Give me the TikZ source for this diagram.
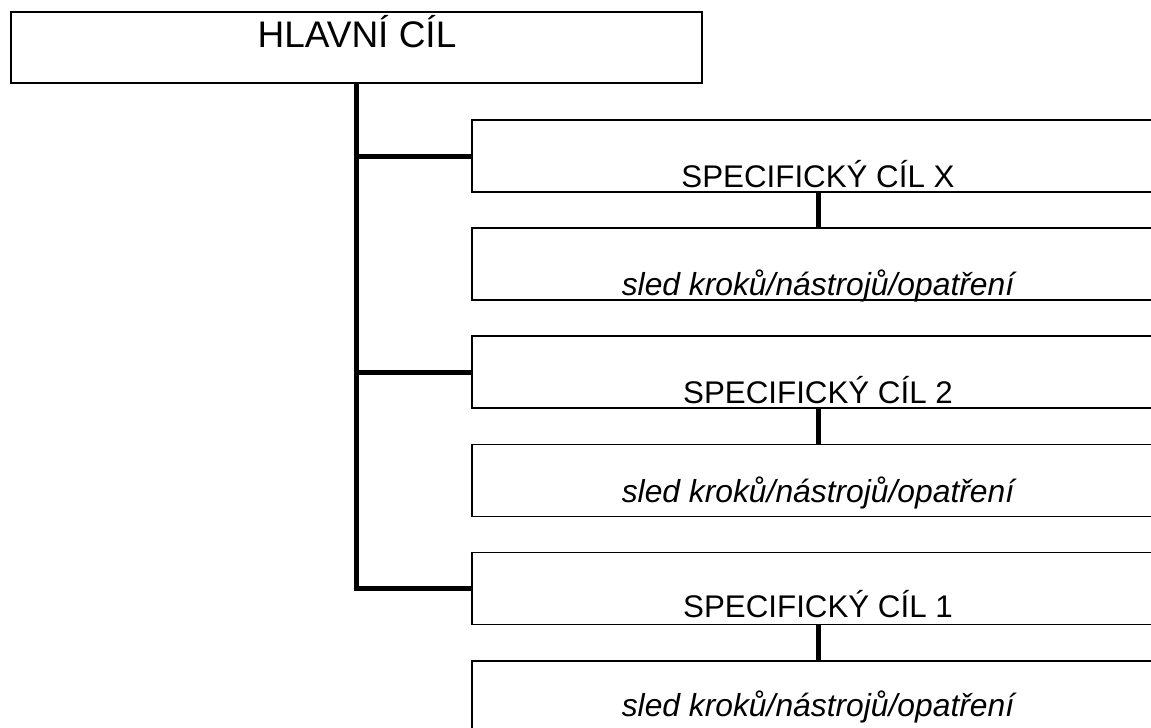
\documentclass[tikz,border=0pt]{standalone}
\usepackage{fontspec}
\setmainfont{Liberation Sans}
\begin{document}
\begin{tikzpicture}[x=1pt,y=-1pt,
  box/.style={draw, line width=1.5pt, rectangle, inner sep=0pt, minimum width=692pt, minimum height=72pt},
  mainbox/.style={draw, line width=1.8pt, rectangle, inner sep=0pt, minimum width=691pt, minimum height=71pt},
  link/.style={line width=5pt, line join=miter},
  sc/.style={font=\fontsize{31.3}{36}\selectfont, anchor=base, inner sep=0pt},
  sled/.style={font=\fontsize{31.8}{36}\selectfont\itshape, anchor=base, inner sep=0pt},
  maintext/.style={font=\fontsize{37}{42}\selectfont, anchor=base, inner sep=0pt}]
\useasboundingbox (0,0) rectangle (1151,728);
\clip (0,0) rectangle (1151,728);
\fill[white] (0,0) rectangle (1151,728);
% boxes
\node[mainbox] (main) at (356.5,47.5) {};
\node[box] (b1) at (818,156) {};
\node[box] (b2) at (818,264) {};
\node[box] (b3) at (818,372) {};
\node[box] (b4) at (818,480.5) {};
\node[box] (b5) at (818,588.5) {};
\node[box] (b6) at (818,697) {};
% texts
\node[maintext] (tm) at (357,47) {HLAVNÍ CÍL};
\node[sc] (t1) at (818,187) {SPECIFICKÝ CÍL X};
\node[sled] (t2) at (818,295) {sled kroků/nástrojů/opatření};
\node[sc] (t3) at (818,403) {SPECIFICKÝ CÍL 2};
\node[sled] (t4) at (818,502) {sled kroků/nástrojů/opatření};
\node[sc] (t5) at (818,617) {SPECIFICKÝ CÍL 1};
\node[sled] (t6) at (818,716) {sled kroků/nástrojů/opatření};
% connectors
\draw[link] (main.south) -- (main.south |- b5.west) -- (b5.west);
\draw[link] (main.south |- b1.west) -- (b1.west);
\draw[link] (main.south |- b3.west) -- (b3.west);
\draw[link] (b1.south) -- (b2.north);
\draw[link] (b3.south) -- (b4.north);
\draw[link] (b5.south) -- (b6.north);
\end{tikzpicture}
\end{document}
